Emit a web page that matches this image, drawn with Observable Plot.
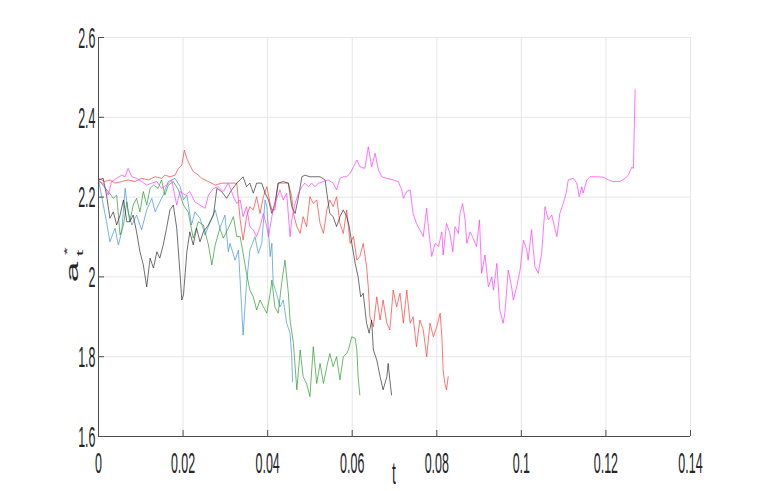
<!DOCTYPE html>
<html>
<head>
<meta charset="utf-8">
<script src="https://cdn.jsdelivr.net/npm/d3@7"></script>
<script src="https://cdn.jsdelivr.net/npm/@observablehq/plot@0.6"></script>
<style>
  html, body { margin: 0; padding: 0; background: #ffffff; }
  #chart { width: 763px; height: 491px; }
</style>
</head>
<body>
<div id="chart"></div>
<script>
// ---- axis ticks ----
const xTicks = [0, 0.02, 0.04, 0.06, 0.08, 0.1, 0.12, 0.14];
const xTickLabels = ["0", "0.02", "0.04", "0.06", "0.08", "0.1", "0.12", "0.14"];
const yTicks = [1.6, 1.8, 2, 2.2, 2.4, 2.6];
const yTickLabels = ["1.6", "1.8", "2", "2.2", "2.4", "2.6"];
const xLabel = "t";

// ---- series (t, a*_t) ----
const seriesNames = ["run 1", "run 2", "run 3", "run 4", "run 5"];
const seriesColors = ["#3a8fd4", "#259525", "#ff3333", "#2a2a2a", "#ff33ff"];

const blueSeries = [[0,2.243],[0.0019,2.138],[0.0027,2.088],[0.0039,2.122],[0.0047,2.080],[0.0055,2.113],[0.0063,2.222],[0.0070,2.163],[0.0079,2.130],[0.0090,2.155],[0.0102,2.118],[0.0114,2.168],[0.0126,2.197],[0.0134,2.163],[0.0145,2.188],[0.0153,2.205],[0.0165,2.239],[0.0181,2.247],[0.0193,2.226],[0.0201,2.193],[0.0209,2.205],[0.0220,2.130],[0.0228,2.163],[0.0240,2.147],[0.0252,2.105],[0.0264,2.138],[0.0276,2.168],[0.0287,2.122],[0.0299,2.155],[0.0307,2.063],[0.0311,2.084],[0.0323,2.042],[0.0331,2.067],[0.0342,1.854],[0.0350,1.984],[0.0358,2.067],[0.0370,2.101],[0.0378,2.059],[0.0386,2.084],[0.0394,2.193],[0.0398,2.176],[0.0406,2.051],[0.0410,2.084],[0.0413,1.984],[0.0421,1.959],[0.0429,1.925],[0.0437,1.942],[0.0445,1.884],[0.0453,1.859],[0.0457,1.800],[0.0459,1.737]];

const greenSeries = [[0,2.243],[0.0023,2.214],[0.0035,2.197],[0.0043,2.205],[0.0051,2.105],[0.0059,2.130],[0.0067,2.188],[0.0074,2.138],[0.0082,2.180],[0.0090,2.197],[0.0098,2.163],[0.0106,2.214],[0.0114,2.180],[0.0122,2.222],[0.0130,2.230],[0.0141,2.222],[0.0149,2.243],[0.0157,2.205],[0.0165,2.230],[0.0177,2.239],[0.0189,2.218],[0.0201,2.180],[0.0212,2.163],[0.0224,2.097],[0.0236,2.138],[0.0248,2.130],[0.0260,2.080],[0.0268,2.030],[0.0276,2.080],[0.0287,2.122],[0.0295,2.097],[0.0307,2.122],[0.0319,2.151],[0.0327,2.101],[0.0335,2.101],[0.0342,2.059],[0.0350,2.009],[0.0358,1.967],[0.0366,1.950],[0.0374,1.917],[0.0382,1.942],[0.0390,1.925],[0.0398,1.909],[0.0406,1.959],[0.0410,1.992],[0.0417,1.925],[0.0425,1.909],[0.0433,1.984],[0.0441,2.042],[0.0449,1.959],[0.0453,1.892],[0.0461,1.834],[0.0469,1.717],[0.0477,1.817],[0.0484,1.750],[0.0492,1.733],[0.0500,1.700],[0.0508,1.825],[0.0516,1.733],[0.0524,1.783],[0.0532,1.733],[0.0540,1.775],[0.0547,1.808],[0.0555,1.775],[0.0563,1.800],[0.0571,1.742],[0.0579,1.800],[0.0587,1.808],[0.0591,1.817],[0.0599,1.850],[0.0607,1.846],[0.0611,1.817],[0.0614,1.750],[0.0618,1.704]];

const redSeries = [[0,2.247],[0.0015,2.239],[0.0027,2.243],[0.0039,2.235],[0.0055,2.239],[0.0070,2.243],[0.0086,2.239],[0.0102,2.247],[0.0118,2.243],[0.0134,2.251],[0.0149,2.247],[0.0157,2.255],[0.0169,2.251],[0.0181,2.255],[0.0189,2.272],[0.0197,2.280],[0.0203,2.318],[0.0209,2.297],[0.0216,2.280],[0.0224,2.264],[0.0236,2.255],[0.0244,2.247],[0.0260,2.239],[0.0276,2.230],[0.0291,2.235],[0.0307,2.235],[0.0327,2.235],[0.0335,2.143],[0.0342,2.092],[0.0350,2.151],[0.0358,2.176],[0.0366,2.168],[0.0374,2.201],[0.0382,2.159],[0.0390,2.201],[0.0398,2.226],[0.0406,2.184],[0.0410,2.168],[0.0417,2.168],[0.0425,2.235],[0.0437,2.235],[0.0449,2.235],[0.0457,2.201],[0.0461,2.159],[0.0469,2.126],[0.0477,2.109],[0.0484,2.151],[0.0492,2.126],[0.0500,2.201],[0.0508,2.184],[0.0516,2.193],[0.0524,2.134],[0.0532,2.109],[0.0540,2.168],[0.0547,2.193],[0.0555,2.176],[0.0563,2.201],[0.0571,2.134],[0.0579,2.109],[0.0587,2.168],[0.0595,2.084],[0.0603,2.101],[0.0611,2.042],[0.0618,2.051],[0.0626,2.084],[0.0634,2.026],[0.0638,1.975],[0.0642,1.900],[0.0650,1.875],[0.0658,1.950],[0.0666,1.892],[0.0673,1.942],[0.0682,1.884],[0.0689,1.867],[0.0697,1.967],[0.0705,1.925],[0.0713,1.959],[0.0721,1.884],[0.0729,1.967],[0.0737,1.884],[0.0744,1.900],[0.0752,1.825],[0.0760,1.892],[0.0768,1.867],[0.0776,1.800],[0.0784,1.884],[0.0792,1.850],[0.0800,1.875],[0.0808,1.909],[0.0812,1.850],[0.0815,1.767],[0.0819,1.733],[0.0823,1.717],[0.0827,1.750]];

const blackSeries = [[0,2.243],[0.0011,2.247],[0.0019,2.205],[0.0027,2.147],[0.0035,2.163],[0.0043,2.130],[0.0051,2.155],[0.0059,2.193],[0.0067,2.138],[0.0074,2.138],[0.0082,2.155],[0.0090,2.113],[0.0098,2.063],[0.0106,2.030],[0.0114,1.975],[0.0122,2.047],[0.0130,2.022],[0.0138,2.063],[0.0145,2.047],[0.0153,2.080],[0.0161,2.122],[0.0169,2.168],[0.0177,2.180],[0.0185,2.122],[0.0193,2.005],[0.0197,1.942],[0.0201,1.955],[0.0209,2.063],[0.0216,2.113],[0.0224,2.080],[0.0232,2.122],[0.0240,2.088],[0.0248,2.113],[0.0260,2.130],[0.0272,2.155],[0.0280,2.222],[0.0291,2.214],[0.0303,2.197],[0.0315,2.218],[0.0327,2.235],[0.0335,2.243],[0.0342,2.251],[0.0350,2.226],[0.0358,2.235],[0.0366,2.210],[0.0374,2.235],[0.0386,2.235],[0.0394,2.210],[0.0402,2.193],[0.0410,2.159],[0.0417,2.184],[0.0425,2.235],[0.0437,2.239],[0.0449,2.235],[0.0457,2.176],[0.0465,2.159],[0.0473,2.201],[0.0481,2.251],[0.0488,2.255],[0.0500,2.251],[0.0512,2.251],[0.0524,2.251],[0.0536,2.243],[0.0540,2.210],[0.0547,2.159],[0.0555,2.151],[0.0563,2.126],[0.0571,2.151],[0.0579,2.168],[0.0587,2.151],[0.0593,2.126],[0.0599,2.084],[0.0607,2.034],[0.0614,2.000],[0.0620,1.950],[0.0626,1.959],[0.0634,1.884],[0.0640,1.859],[0.0646,1.892],[0.0650,1.817],[0.0658,1.792],[0.0666,1.750],[0.0673,1.717],[0.0682,1.750],[0.0685,1.783],[0.0689,1.742],[0.0693,1.704]];

const magentaSeries = [[0,2.239],[0.0011,2.235],[0.0023,2.205],[0.0031,2.239],[0.0043,2.247],[0.0055,2.255],[0.0063,2.251],[0.0070,2.272],[0.0079,2.251],[0.0090,2.247],[0.0102,2.239],[0.0114,2.230],[0.0126,2.235],[0.0138,2.239],[0.0149,2.222],[0.0161,2.230],[0.0173,2.243],[0.0185,2.180],[0.0193,2.214],[0.0205,2.205],[0.0216,2.214],[0.0228,2.188],[0.0240,2.180],[0.0252,2.172],[0.0260,2.205],[0.0272,2.222],[0.0283,2.226],[0.0295,2.214],[0.0307,2.235],[0.0315,2.214],[0.0319,2.201],[0.0327,2.184],[0.0335,2.193],[0.0342,2.151],[0.0350,2.176],[0.0358,2.126],[0.0366,2.118],[0.0374,2.101],[0.0382,2.126],[0.0390,2.159],[0.0398,2.126],[0.0402,2.101],[0.0410,2.151],[0.0417,2.184],[0.0429,2.218],[0.0437,2.193],[0.0445,2.210],[0.0453,2.101],[0.0457,2.143],[0.0465,2.184],[0.0473,2.210],[0.0481,2.226],[0.0488,2.235],[0.0496,2.226],[0.0504,2.235],[0.0512,2.226],[0.0520,2.235],[0.0532,2.239],[0.0543,2.243],[0.0555,2.235],[0.0563,2.218],[0.0571,2.247],[0.0579,2.251],[0.0587,2.251],[0.0595,2.260],[0.0603,2.276],[0.0611,2.293],[0.0618,2.276],[0.0630,2.272],[0.0638,2.326],[0.0646,2.276],[0.0654,2.310],[0.0662,2.268],[0.0670,2.251],[0.0682,2.247],[0.0697,2.243],[0.0709,2.239],[0.0717,2.218],[0.0721,2.197],[0.0729,2.214],[0.0737,2.218],[0.0744,2.159],[0.0752,2.134],[0.0760,2.118],[0.0768,2.101],[0.0776,2.172],[0.0780,2.126],[0.0788,2.051],[0.0796,2.084],[0.0804,2.076],[0.0812,2.113],[0.0815,2.055],[0.0823,2.134],[0.0831,2.109],[0.0838,2.063],[0.0843,2.126],[0.0851,2.109],[0.0855,2.159],[0.0861,2.184],[0.0867,2.143],[0.0871,2.084],[0.0879,2.113],[0.0886,2.097],[0.0894,2.076],[0.0901,2.143],[0.0906,2.009],[0.0914,2.055],[0.0922,1.975],[0.0930,2.000],[0.0934,1.967],[0.0942,2.034],[0.0949,1.917],[0.0957,1.884],[0.0961,1.909],[0.0969,2.017],[0.0977,1.975],[0.0981,1.942],[0.0989,1.975],[0.0997,2.017],[0.1005,2.092],[0.1013,2.067],[0.1016,2.042],[0.1024,2.118],[0.1032,2.026],[0.1040,2.009],[0.1048,2.059],[0.1056,2.176],[0.1064,2.143],[0.1072,2.155],[0.1080,2.118],[0.1084,2.101],[0.1091,2.159],[0.1099,2.184],[0.1106,2.210],[0.1111,2.243],[0.1123,2.247],[0.1131,2.235],[0.1137,2.201],[0.1143,2.226],[0.1146,2.210],[0.1155,2.243],[0.1162,2.251],[0.1178,2.251],[0.1194,2.250],[0.1206,2.243],[0.1217,2.239],[0.1233,2.239],[0.1245,2.247],[0.1253,2.255],[0.1261,2.275],[0.1265,2.272],[0.1269,2.469]];

const seriesData = [blueSeries, greenSeries, redSeries, blackSeries, magentaSeries];

// long table built from the arrays
const rows = seriesNames.flatMap((name, i) =>
  seriesData[i].map(([t, a]) => ({series: name, t, a}))
);

const FONT = "'Liberation Sans', Arial, Helvetica, sans-serif";
const SQUEEZE = 0.43;   // horizontal compression of the reference's text
const axisColor = "#4d4d4d";
const gridColor = "#e6e6e6";

const chart = Plot.plot({
  width: 763,
  height: 491,
  marginLeft: 98,
  marginRight: 73,
  marginTop: 37,
  marginBottom: 55,
  style: {background: "#ffffff", fontFamily: FONT, color: "#262626"},
  x: {domain: [0, 0.14], axis: null},
  y: {domain: [1.6, 2.6], axis: null},
  color: {type: "ordinal", domain: seriesNames, range: seriesColors},
  marks: [
    Plot.gridX(xTicks, {stroke: gridColor, strokeOpacity: 1}),
    Plot.gridY(yTicks, {stroke: gridColor, strokeOpacity: 1}),
    Plot.line(rows, {x: "t", y: "a", z: "series", stroke: "series",
                     strokeWidth: 0.8, strokeOpacity: 0.85, curve: "linear"}),
    // axis lines
    Plot.ruleX([0], {stroke: axisColor}),
    Plot.ruleY([1.6], {stroke: axisColor}),
    // inward ticks
    Plot.ruleX(xTicks, {x: d => d, y1: 1.6, y2: 1.6, insetTop: -6, stroke: axisColor}),
    Plot.ruleY(yTicks, {y: d => d, x1: 0, x2: 0, insetRight: -6, stroke: axisColor}),
    Plot.axisX(xTicks, {tickSize: 0, tickPadding: 16, fontSize: 29, label: null,
                        tickFormat: (d, i) => xTickLabels[i], fill: "#262626"}),
    Plot.axisY(yTicks, {tickSize: 0, tickPadding: 3, fontSize: 29, label: null, dy: 1,
                        tickFormat: (d, i) => yTickLabels[i], fill: "#262626"})
  ]
});

document.getElementById("chart").appendChild(chart);

// squeeze tick labels horizontally like the reference
let tickTexts = chart.querySelectorAll('g[aria-label$="tick label"] text');
if (tickTexts.length === 0) tickTexts = chart.querySelectorAll("text");
tickTexts.forEach(t => {
  const tr = t.getAttribute("transform") || "";
  t.setAttribute("transform", tr + ` scale(${SQUEEZE},1)`);
});

const svg = d3.select(chart);

// x-axis label "t"
svg.append("text")
  .attr("transform", `translate(394,484) scale(${SQUEEZE},1)`)
  .attr("text-anchor", "middle")
  .attr("font-family", FONT)
  .attr("font-size", 32)
  .attr("fill", "#262626")
  .text(xLabel);

// y-axis label a*_t (rotated)
const yl = svg.append("g")
  .attr("transform", `translate(78.3,272) scale(${SQUEEZE},1) rotate(-90)`)
  .attr("font-family", FONT)
  .attr("fill", "#262626");
yl.append("text").attr("x", 0).attr("y", 0).attr("font-size", 37).text("a");
yl.append("text").attr("x", 21).attr("y", -20).attr("font-size", 20).text("*");
yl.append("text").attr("x", 19).attr("y", 11.5).attr("font-size", 23).text("t");
</script>
</body>
</html>
